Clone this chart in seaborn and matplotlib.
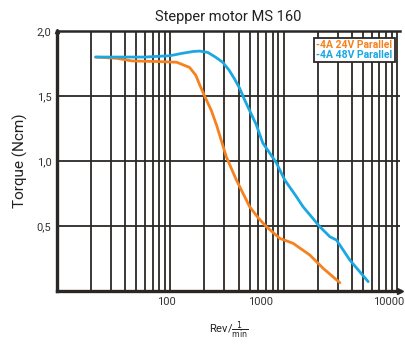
import numpy as np
import pandas as pd
import matplotlib
matplotlib.use("Agg")
import matplotlib.pyplot as plt
import seaborn as sns
from matplotlib.ticker import FuncFormatter, NullFormatter

# torque curves
rpm_24v = [22, 34, 46, 80, 114, 148, 168, 182, 201, 230, 256, 312, 383, 469, 502,
           600, 705, 924, 1211, 1701, 2228, 3131]
torque_24v = [1.80, 1.79, 1.77, 1.765, 1.76, 1.72, 1.66, 1.585, 1.50, 1.39, 1.277,
              1.033, 0.854, 0.70, 0.648, 0.56, 0.495, 0.405, 0.367, 0.277, 0.175, 0.064]

rpm_48v = [22, 60, 99, 130, 160, 182, 215, 250, 290, 330, 370, 409, 453, 575, 654,
           864, 1023, 1298, 1484, 2084, 2553, 2926, 3837, 5566]
torque_48v = [1.80, 1.80, 1.81, 1.83, 1.843, 1.846, 1.835, 1.80, 1.76, 1.70, 1.63,
              1.56, 1.47, 1.277, 1.14, 0.985, 0.854, 0.725, 0.648, 0.495, 0.418,
              0.392, 0.238, 0.072]

series_names = ["-4A 24V Parallel", "-4A 48V Parallel"]
series_colors = ["#f5821f", "#1ba7e1"]

# label positions as printed on the original (slightly off the decade lines)
xtick_pos = [93, 630, 8400]
xtick_labels = ["100", "1000", "10000"]
ytick_pos = [0.5, 1.0, 1.5, 2.0]

df = pd.concat([
    pd.DataFrame({"rpm": rpm_24v, "torque": torque_24v, "curve": series_names[0]}),
    pd.DataFrame({"rpm": rpm_48v, "torque": torque_48v, "curve": series_names[1]}),
])

sns.set_theme(style="white")
plt.rcParams["font.family"] = ["Roboto", "DejaVu Sans"]

fig = plt.figure(figsize=(4.06, 3.45), dpi=100)
ax = fig.add_axes([0.140, 0.1565, 0.845, 0.7535])

grid_col = "#2b2724"
sns.lineplot(data=df, x="rpm", y="torque", hue="curve", palette=series_colors,
             sort=False, estimator=None, linewidth=2.0, ax=ax, zorder=3)

ax.set_xscale("log")
ax.set_xlim(10, 10600)
ax.set_ylim(0, 2.0)

# vertical grid on every 1..9 x decade line
grid_pos = [m * 10 ** e for e in (1, 2, 3) for m in range(2, 10)] + [100, 1000, 10000]
ax.set_xticks(sorted(set(grid_pos)), minor=True)
ax.xaxis.set_minor_formatter(NullFormatter())
ax.set_xticks(xtick_pos)
ax.set_xticklabels(xtick_labels)
ax.grid(which="minor", axis="x", color=grid_col, linewidth=1.3)
ax.grid(which="major", axis="x", visible=False)

ax.set_yticks(ytick_pos)
ax.yaxis.set_major_formatter(FuncFormatter(lambda v, p: f"{v:.1f}".replace(".", ",")))
ax.grid(which="major", axis="y", color=grid_col, linewidth=1.3)

ax.tick_params(which="both", length=0, labelsize=8, labelcolor="#333333", pad=4)

for side in ["left", "bottom"]:
    ax.spines[side].set_color(grid_col)
    ax.spines[side].set_linewidth(2.4)
ax.spines["top"].set_color(grid_col)
ax.spines["top"].set_linewidth(1.8)
ax.spines["right"].set_visible(False)

# small arrow heads at the axis ends
ax.plot(1, 0, ">", color=grid_col, markersize=4, transform=ax.transAxes, clip_on=False)
ax.plot(0, 1, "^", color=grid_col, markersize=3, transform=ax.transAxes, clip_on=False)

ax.set_title("Stepper motor MS 160", fontsize=10.5, color="#222222", pad=7)
ax.set_ylabel("Torque (Ncm)", fontsize=11, color="#222222", labelpad=6)
ax.set_xlabel("Rev/$\\frac{1}{\\mathrm{min}}$", fontsize=8, color="#222222", labelpad=9)

handles, labels = ax.get_legend_handles_labels()
leg = ax.legend(handles, labels, loc="upper right", bbox_to_anchor=(1.0, 0.993),
                handlelength=0, handletextpad=0, labelspacing=0.0, borderpad=0.2,
                labelcolor="linecolor", fancybox=False, framealpha=1,
                prop={"family": ["Liberation Sans Narrow", "Roboto"], "weight": "bold", "size": 7.5})
leg.get_frame().set_edgecolor(grid_col)
leg.get_frame().set_linewidth(1.3)
for h in leg.legend_handles:
    h.set_visible(False)

fig.savefig("out.png", dpi=100)
